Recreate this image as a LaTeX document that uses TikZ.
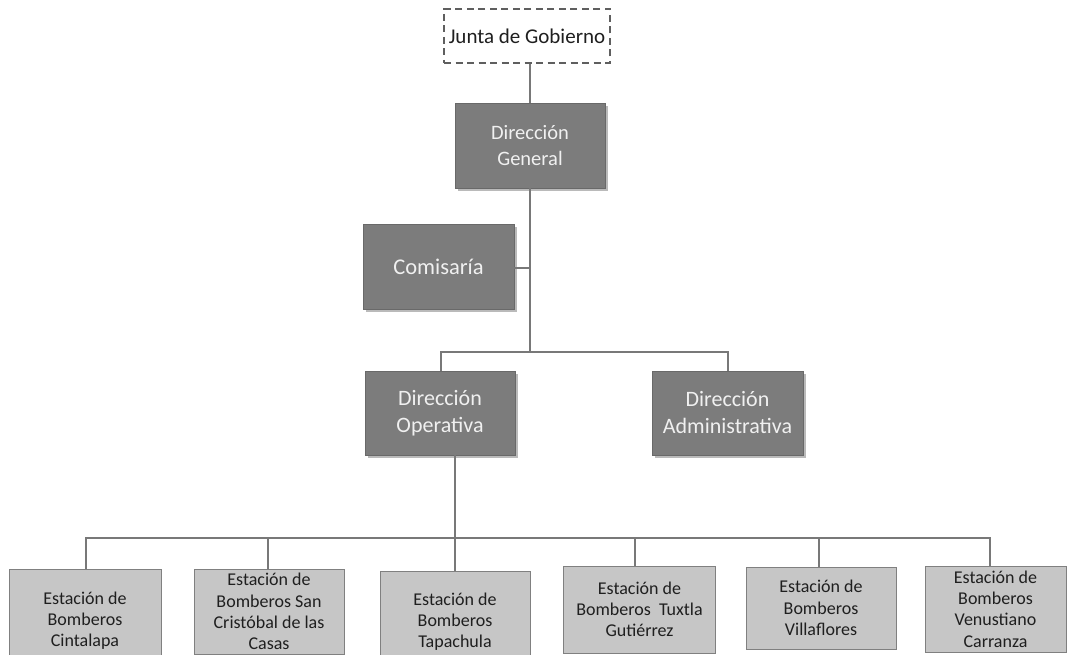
\documentclass[tikz,border=0pt]{standalone}
\usepackage{fontspec}
\setmainfont{Carlito}
\usetikzlibrary{shadows}
\definecolor{darkbox}{RGB}{124,124,124}
\definecolor{darkedge}{RGB}{105,105,105}
\definecolor{lightbox}{RGB}{198,198,198}
\definecolor{lightedge}{RGB}{128,128,128}
\definecolor{wire}{RGB}{120,120,120}
\definecolor{dashedge}{RGB}{95,95,95}
\tikzset{
  topbox/.style={draw=dashedge, dash pattern=on 7pt off 4.5pt, line width=1.4pt, fill=white, minimum width=166pt, minimum height=54pt, inner sep=0pt, font=\fontsize{21}{25}\selectfont, text=black!88},
  darknode/.style={fill=darkbox, draw=darkedge, line width=0.6pt, text=white!94!black, align=center, inner sep=0pt, minimum height=85pt,
    drop shadow={shadow xshift=3pt, shadow yshift=-3pt, opacity=0.45, fill=black!60}},
  stationbox/.style={fill=lightbox, draw=lightedge, line width=1pt, text=black!88, align=center, inner xsep=2pt, inner ysep=0pt,
    minimum height=85pt, font=\fontsize{18}{21.3}\selectfont},
  wireline/.style={draw=wire, line width=1.6pt}
}
\begin{document}
\begin{tikzpicture}[x=1pt,y=-1pt]
\useasboundingbox[fill=white] (0,0) rectangle (1067,655);

% junction coordinates
\coordinate (trunk) at (530,0);
\coordinate (comj) at (530,268);
\coordinate (busA) at (530,352);
\coordinate (busAl) at (441,352);
\coordinate (busAr) at (728,352);
\coordinate (opdown) at (455,0);
\coordinate (busB) at (455,538);
\coordinate (t1) at (86,538);
\coordinate (t2) at (268,538);
\coordinate (t3) at (455,538);
\coordinate (t4) at (635,538);
\coordinate (t5) at (819,538);
\coordinate (t6) at (990,538);

% nodes
\node[topbox] (jg) at (527,36) {Junta de Gobierno};
\node[darknode, minimum width=150pt, font=\fontsize{20.5}{26}\selectfont] (dg) at (530,145.5) {Dirección\\General};
\node[darknode, minimum width=151pt, font=\fontsize{22.5}{27}\selectfont] (com) at (438.5,266.5) {Comisaría};
\node[darknode, minimum width=150pt, minimum height=84pt, font=\fontsize{22}{27}\selectfont] (do) at (440,413) {Dirección\\Operativa};
\node[darknode, minimum width=151pt, minimum height=84pt, font=\fontsize{22}{27}\selectfont] (da) at (727.5,413) {Dirección\\Administrativa};

\node[stationbox, minimum width=152pt, minimum height=103pt] (b1) at (85,620.5) {Estación de\\Bomberos\\Cintalapa};
\node[stationbox, minimum width=150pt] (b2) at (269,611.5) {Estación de\\Bomberos San\\Cristóbal de las\\Casas};
\node[stationbox, minimum width=150pt, minimum height=101pt] (b3) at (455,621.5) {Estación de\\Bomberos\\Tapachula};
\node[stationbox, minimum width=152pt, minimum height=87pt] (b4) at (639.5,609.5) {Estación de\\Bomberos\ \ Tuxtla\\Gutiérrez};
\node[stationbox, minimum width=150pt, minimum height=82pt] (b5) at (821,608) {Estación de\\Bomberos\\Villaflores};
\node[stationbox, minimum width=141pt, minimum height=86pt] (b6) at (995.5,609) {Estación de\\Bomberos\\Venustiano\\Carranza};

% connectors
\draw[wireline] (jg.south -| trunk) -- (dg.north -| trunk);
\draw[wireline] (dg.south -| trunk) -- (busA);
\draw[wireline] (com.east |- comj) -- (comj);
\draw[wireline] (busAl |- do.north) -- (busAl) -- (busAr) -- (busAr |- da.north);
\draw[wireline] (do.south -| opdown) -- (busB) -- (b3.north -| t3);
\draw[wireline] (t1 |- b1.north) -- (t1) -- (t6) -- (t6 |- b6.north);
\draw[wireline] (t2) -- (t2 |- b2.north);
\draw[wireline] (t4) -- (t4 |- b4.north);
\draw[wireline] (t5) -- (t5 |- b5.north);
\end{tikzpicture}
\end{document}
